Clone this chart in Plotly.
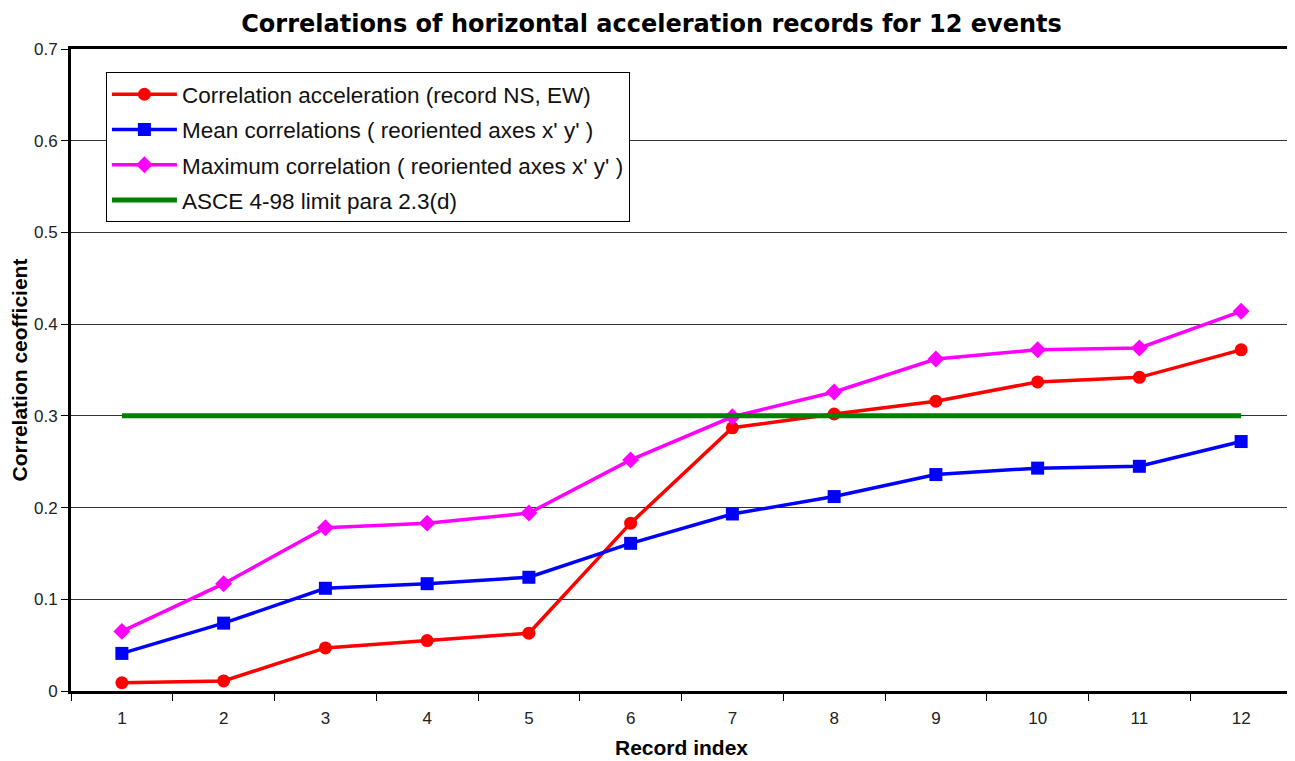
import plotly.graph_objects as go

records = [str(i) for i in range(1, 13)]
corr_ns_ew = [0.009, 0.011, 0.047, 0.055, 0.063, 0.183, 0.287, 0.302, 0.316, 0.337, 0.342, 0.372]
mean_corr = [0.041, 0.074, 0.112, 0.117, 0.124, 0.161, 0.193, 0.212, 0.236, 0.243, 0.245, 0.272]
max_corr = [0.065, 0.117, 0.178, 0.183, 0.194, 0.252, 0.299, 0.326, 0.362, 0.372, 0.374, 0.414]
asce_limit = [0.3] * 12

y_ticks = [0, 0.1, 0.2, 0.3, 0.4, 0.5, 0.6, 0.7]
y_ticktext = ["0", "0.1", "0.2", "0.3", "0.4", "0.5", "0.6", "0.7"]

fig = go.Figure()
fig.add_trace(go.Scatter(x=records, y=corr_ns_ew, mode="lines+markers",
                         name="Correlation acceleration (record NS, EW)", legendgroup="a",
                         line=dict(color="#ff0000", width=3.5),
                         marker=dict(symbol="circle", size=13, color="#ff0000")))
fig.add_trace(go.Scatter(x=records, y=mean_corr, mode="lines+markers",
                         name="Mean correlations ( reoriented axes x' y' )", legendgroup="b",
                         line=dict(color="#0000ff", width=3.5),
                         marker=dict(symbol="square", size=13, color="#0000ff")))
fig.add_trace(go.Scatter(x=records, y=max_corr, mode="lines+markers",
                         name="Maximum correlation ( reoriented axes x' y' )", legendgroup="c",
                         line=dict(color="#ff00ff", width=3.5),
                         marker=dict(symbol="diamond", size=13, color="#ff00ff")))
fig.add_trace(go.Scatter(x=records, y=asce_limit, mode="lines",
                         name="ASCE 4-98 limit para 2.3(d)", legendgroup="d",
                         line=dict(color="#008000", width=5)))

fig.update_layout(
    width=1287, height=753,
    margin=dict(l=60, r=3, t=41, b=70),
    paper_bgcolor="white", plot_bgcolor="white",
    font=dict(family="Liberation Sans, Arial, sans-serif", color="black", size=17),
    title=dict(text="<b>Correlations of horizontal acceleration records for 12 events</b>",
               x=0.5, xanchor="center", y=0.979, yanchor="middle",
               font=dict(size=24, color="black", family="DejaVu Sans, sans-serif")),
    legend=dict(x=0.0286, y=0.964, xanchor="left", yanchor="top",
                bgcolor="white", bordercolor="black", borderwidth=1,
                font=dict(size=22.5, color="#111111"), tracegroupgap=3,
                itemwidth=65),
    showlegend=True,
)
fig.update_xaxes(
    type="category", range=[-0.5, 11.5],
    showline=True, linecolor="black", linewidth=3, mirror=True,
    ticks="outside", tickson="boundaries", ticklen=7, tickcolor="black", tickwidth=1,
    ticklabelstandoff=10,
    showgrid=False, zeroline=False,
    tickfont=dict(size=17, color="#222222"),
    title=dict(text="<b>Record index</b>", font=dict(size=21), standoff=13),
)
fig.update_yaxes(
    range=[0, 0.7], tickvals=y_ticks, ticktext=y_ticktext,
    showline=True, linecolor="black", linewidth=3,
    ticks="outside", ticklen=7, tickcolor="black", tickwidth=1,
    showgrid=True, gridcolor="#333333", gridwidth=1, zeroline=False,
    tickfont=dict(size=17, color="#222222"),
    title=dict(text="<b>Correlation ceofficient</b>", font=dict(size=21), standoff=8),
)
fig.add_shape(type="line", xref="paper", yref="paper", x0=1, x1=1, y0=0, y1=1,
              line=dict(color="black", width=1.5))

fig.write_html("out.html")
